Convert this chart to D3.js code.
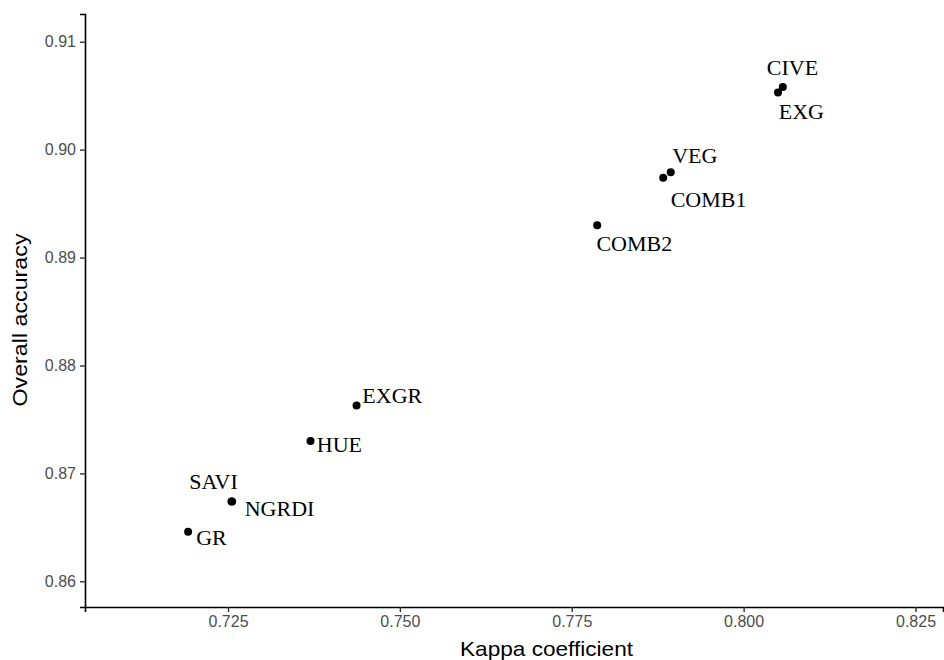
<!DOCTYPE html>
<html>
<head>
<meta charset="utf-8">
<script src="https://cdn.jsdelivr.net/npm/d3@7"></script>
<style>
  body { margin: 0; background: #fff; }
</style>
</head>
<body>
<div id="chart"></div>
<script>
// Index names
const indices = ['CIVE', 'EXG', 'VEG', 'COMB1', 'COMB2', 'EXGR', 'HUE', 'SAVI', 'NGRDI', 'GR'];
// Kappa coefficient and overall accuracy for each index
const kappa = [0.8057, 0.8050, 0.7894, 0.7883, 0.7787, 0.7437, 0.7370, 0.7255, 0.7256, 0.7192];
const accuracy = [0.9058, 0.9053, 0.8979, 0.8974, 0.8930, 0.8763, 0.8730, 0.8674, 0.8674, 0.8646];
// Repelled label positions (data units)
const labelKappa = [0.8071, 0.8084, 0.7929, 0.7949, 0.7841, 0.7489, 0.7412, 0.7229, 0.7325, 0.7226];
const labelAccuracy = [0.9076, 0.9035, 0.8994, 0.8954, 0.8913, 0.8772, 0.8727, 0.8692, 0.8667, 0.8640];
// Tick values
const xTicks = [0.725, 0.750, 0.775, 0.800, 0.825];
const yTicks = [0.86, 0.87, 0.88, 0.89, 0.90, 0.91];

const data = indices.map((name, i) => ({
  name,
  kappa: kappa[i],
  accuracy: accuracy[i],
  lx: labelKappa[i],
  ly: labelAccuracy[i]
}));

const width = 944;
const height = 660;
const margin = { top: 14, right: 1, bottom: 53, left: 85 };
const innerWidth = width - margin.left - margin.right;
const innerHeight = height - margin.top - margin.bottom;

const svg = d3.select('#chart')
  .append('svg')
  .attr('width', width)
  .attr('height', height);

const g = svg.append('g')
  .attr('transform', `translate(${margin.left},${margin.top})`);

const xScale = d3.scaleLinear()
  .domain([0.7042, 0.8290])
  .range([0, innerWidth]);

const yScale = d3.scaleLinear()
  .domain([0.85762, 0.91257])
  .range([innerHeight, 0]);

// x-axis
const xAxis = d3.axisBottom(xScale)
  .tickValues(xTicks)
  .tickFormat(d3.format('.3f'))
  .tickSizeOuter(0)
  .tickSize(5)
  .tickPadding(4);
const xg = g.append('g')
  .attr('transform', `translate(0,${innerHeight})`)
  .call(xAxis);

// y-axis
const yAxis = d3.axisLeft(yScale)
  .tickValues(yTicks)
  .tickFormat(d3.format('.2f'))
  .tickSizeOuter(0)
  .tickSize(5)
  .tickPadding(4);
const yg = g.append('g').call(yAxis);

[xg, yg].forEach(ax => {
  ax.select('.domain').attr('stroke', '#000').attr('stroke-width', 1.6);
  ax.selectAll('.tick line').attr('stroke', '#333').attr('stroke-width', 1.4);
  ax.selectAll('.tick text')
    .attr('fill', '#4d4d4d')
    .style('font-family', '"Liberation Sans", Arial, sans-serif')
    .style('font-size', '16px');
});

// points
g.selectAll('circle')
  .data(data)
  .enter()
  .append('circle')
  .attr('cx', d => xScale(d.kappa))
  .attr('cy', d => yScale(d.accuracy))
  .attr('r', 4)
  .attr('fill', '#000');

// labels
g.selectAll('text.lab')
  .data(data)
  .enter()
  .append('text')
  .attr('class', 'lab')
  .attr('x', d => xScale(d.lx))
  .attr('y', d => yScale(d.ly))
  .attr('dy', '0.33em')
  .attr('text-anchor', 'middle')
  .style('font-family', '"Liberation Serif", "Times New Roman", serif')
  .style('font-size', '22px')
  .attr('fill', '#000')
  .text(d => d.name);

// axis titles
svg.append('text')
  .attr('x', 546.5)
  .attr('y', 656)
  .attr('text-anchor', 'middle')
  .attr('textLength', 173)
  .attr('lengthAdjust', 'spacingAndGlyphs')
  .style('font-family', '"Liberation Sans", Arial, sans-serif')
  .style('font-size', '21px')
  .text('Kappa coefficient');

svg.append('text')
  .attr('transform', `translate(27,320) rotate(-90)`)
  .attr('text-anchor', 'middle')
  .attr('textLength', 173)
  .attr('lengthAdjust', 'spacingAndGlyphs')
  .style('font-family', '"Liberation Sans", Arial, sans-serif')
  .style('font-size', '21px')
  .text('Overall accuracy');
</script>
</body>
</html>
